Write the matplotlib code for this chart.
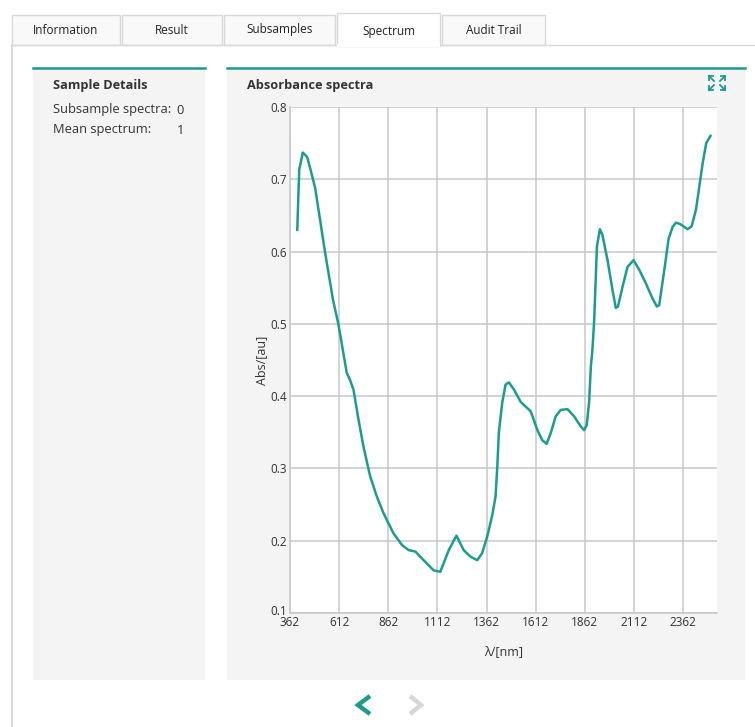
import matplotlib
matplotlib.use("Agg")
import matplotlib.pyplot as plt
from matplotlib.patches import Rectangle
from matplotlib.transforms import ScaledTranslation

plt.rcParams['font.family'] = ['Open Sans', 'DejaVu Sans']

# Spectrum
wavelength = [399, 409, 427, 449, 464, 490, 541, 581, 608, 651, 668, 685, 711, 736,
              770, 804, 838, 889, 932, 966, 1000, 1042, 1093, 1127, 1170, 1209, 1246,
              1280, 1315, 1340, 1366, 1391, 1408, 1417, 1425, 1442, 1459, 1476, 1502,
              1536, 1587, 1621, 1646, 1668, 1689, 1714, 1740, 1774, 1808, 1842, 1859,
              1872, 1884, 1893, 1901, 1910, 1924, 1939, 1952, 1978, 2003, 2020, 2031,
              2054, 2080, 2110, 2139, 2173, 2207, 2229, 2241, 2267, 2289, 2309, 2326,
              2348, 2369, 2386, 2406, 2428, 2445, 2462, 2480, 2502]
absorbance = [0.630, 0.713, 0.737, 0.731, 0.716, 0.688, 0.598, 0.533, 0.500, 0.432,
              0.422, 0.409, 0.367, 0.330, 0.289, 0.261, 0.238, 0.210, 0.194, 0.187,
              0.185, 0.173, 0.159, 0.157, 0.187, 0.207, 0.187, 0.178, 0.173, 0.183,
              0.206, 0.235, 0.261, 0.303, 0.350, 0.391, 0.416, 0.419, 0.409, 0.392,
              0.379, 0.353, 0.339, 0.334, 0.349, 0.372, 0.381, 0.382, 0.372, 0.358,
              0.353, 0.360, 0.391, 0.441, 0.464, 0.505, 0.607, 0.631, 0.623, 0.588,
              0.547, 0.522, 0.524, 0.551, 0.579, 0.588, 0.575, 0.556, 0.535, 0.524,
              0.526, 0.575, 0.618, 0.634, 0.640, 0.638, 0.634, 0.631, 0.635, 0.658,
              0.690, 0.722, 0.750, 0.760]

x_ticks = [362, 612, 862, 1112, 1362, 1612, 1862, 2112, 2362]
y_ticks = [0.1, 0.2, 0.3, 0.4, 0.5, 0.6, 0.7, 0.8]
tabs = ["Information", "Result", "Subsamples", "Spectrum", "Audit Trail"]

TEAL = '#1d9c8e'
W, H = 755, 727

fig = plt.figure(figsize=(W / 100, H / 100), dpi=100)
fig.patch.set_facecolor('white')

# background "UI" layer in pixel coordinates
bg = fig.add_axes([0, 0, 1, 1])
bg.set_xlim(0, W)
bg.set_ylim(H, 0)
bg.axis('off')

# tabs
tab_x = [(12, 120), (122, 222), (224, 335), (337, 440), (442, 545)]
for (x0, x1), name in zip(tab_x, tabs):
    if name == "Spectrum":
        bg.add_patch(Rectangle((x0, 13), x1 - x0, 33, facecolor='white',
                               edgecolor='#d8d8d8', lw=1, zorder=3))
        bg.text((x0 + x1) / 2, 31, name, ha='center', va='center', fontsize=8.5,
                color='#222222', zorder=4)
    else:
        bg.add_patch(Rectangle((x0, 15), x1 - x0, 30, facecolor='#f9f9f9',
                               edgecolor='#d8d8d8', lw=1, zorder=2))
        bg.text((x0 + x1) / 2, 30, name, ha='center', va='center', fontsize=8.5,
                color='#222222', zorder=4)
bg.plot([12, 337], [45, 45], color='#d8d8d8', lw=1, zorder=2)
bg.plot([440, W], [45, 45], color='#d8d8d8', lw=1, zorder=2)
bg.plot([12, 12], [45, H], color='#d8d8d8', lw=1.2, zorder=2)
bg.add_patch(Rectangle((337, 44), 103, 3, facecolor='white', edgecolor='none', zorder=3))

# left panel
bg.add_patch(Rectangle((33, 67), 172, 613, facecolor='#f4f4f4', edgecolor='none'))
bg.plot([33, 205], [67.5, 67.5], color=TEAL, lw=1.8)
bg.text(53, 85, "Sample Details", fontsize=9.2, fontweight='bold', color='#333333',
        va='center')
bg.text(53, 109, "Subsample spectra:", fontsize=9.3, color='#333333', va='center')
bg.text(176, 110, "0", fontsize=9.3, color='#333333', va='center')
bg.text(53, 130, "Mean spectrum:", fontsize=9.3, color='#333333', va='center')
bg.text(177, 131, "1", fontsize=9.3, color='#333333', va='center')

# right panel
bg.add_patch(Rectangle((227, 67), 518, 613, facecolor='#f4f4f4', edgecolor='none'))
bg.plot([227, 745], [67.5, 67.5], color=TEAL, lw=1.8)
bg.text(247, 85, "Absorbance spectra", fontsize=9.2, fontweight='bold',
        color='#333333', va='center')

# expand icon
cx, cy = 717, 83
for sx in (-1, 1):
    for sy in (-1, 1):
        tipx, tipy = cx + sx * 8, cy + sy * 7
        bg.plot([cx + sx * 3, tipx], [cy + sy * 2, tipy], color=TEAL, lw=1.3)
        bg.plot([tipx, tipx], [tipy, tipy - sy * 4], color=TEAL, lw=1.3)
        bg.plot([tipx, tipx - sx * 4], [tipy, tipy], color=TEAL, lw=1.3)

# navigation chevrons
bg.plot([370, 358, 370], [696, 705, 714], color=TEAL, lw=3.2,
        solid_capstyle='butt', solid_joinstyle='miter')
bg.plot([410, 421, 410], [696, 705, 714], color='#d6d6d6', lw=3.2,
        solid_capstyle='butt', solid_joinstyle='miter')

# chart
ax = fig.add_axes([290 / W, 1 - 613 / H, 427 / W, 506 / H])
ax.set_facecolor('white')
ax.plot(wavelength, absorbance, color=TEAL, lw=1.8, zorder=3)
ax.set_xlim(362, 2535)
ax.set_ylim(0.1, 0.8)
ax.set_xticks(x_ticks)
ax.set_yticks(y_ticks)
ax.set_yticklabels([f"{v:.1f}" for v in y_ticks])
ax.grid(True, color='#c5c8cc', lw=1.1)
ax.tick_params(length=0, labelsize=8.5, labelcolor='#333333', pad=2)
for side in ('top', 'right'):
    ax.spines[side].set_visible(False)
for side in ('left', 'bottom'):
    ax.spines[side].set_color('#c5c8cc')
    ax.spines[side].set_linewidth(1.1)

# the "0.1" label sits just above the first x label, as in the screenshot
lab = ax.get_yticklabels()[0]
lab.set_transform(lab.get_transform() + ScaledTranslation(0, 0.03, fig.dpi_scale_trans))

ax.set_xlabel("λ/[nm]", fontsize=9, color='#333333', labelpad=12)
ax.set_ylabel("Abs/[au]", fontsize=9, color='#333333', labelpad=2)

fig.savefig("out.png", dpi=100)
